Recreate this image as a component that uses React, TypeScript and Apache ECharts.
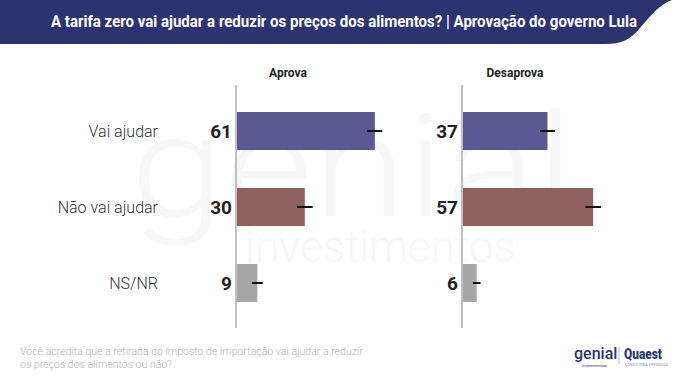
import React, { useEffect, useRef } from "react";
import * as echarts from "echarts";

const categories = ["Vai ajudar", "Não vai ajudar", "NS/NR"];
const panelTitles = ["Aprova", "Desaprova"];
const aprovaValues = [61, 30, 9];
const aprovaErrors = [3.3, 3.5, 2.4];
const desaprovaValues = [37, 57, 6];
const desaprovaErrors = [3.3, 3.4, 1.7];
const barColors = ["#5b5894", "#8f6260", "#a6a6a6"];
const titleText = "A tarifa zero vai ajudar a reduzir os preços dos alimentos? | Aprovação do governo Lula";
const footerLines = [
  "Você acredita que a retirada do imposto de importação vai ajudar a reduzir",
  "os preços dos alimentos ou não?",
];

const FONT = "Roboto, 'Noto Sans', sans-serif";

echarts.graphic.registerShape(
  "headerBand",
  echarts.graphic.extendPath(
    "M0 0 H672 C660 4 650 16 640 28 C630 40 622 44 605 44 H0 Z",
    {}
  )
);

function barSeries(values: number[], idx: number) {
  return {
    type: "bar",
    xAxisIndex: idx,
    yAxisIndex: idx,
    barWidth: 38,
    data: values.map((v, i) => ({ value: v, itemStyle: { color: barColors[i] } })),
    label: {
      show: true,
      position: "left",
      distance: 5,
      fontSize: 19,
      fontWeight: "bold",
      color: "#222",
      fontFamily: FONT,
    },
    z: 2,
  };
}

function errSeries(values: number[], errs: number[], idx: number) {
  return {
    type: "custom",
    xAxisIndex: idx,
    yAxisIndex: idx,
    data: values.map((v, i) => [v, i, errs[i]]),
    encode: { x: 0, y: 1 },
    renderItem: (params: any, api: any) => {
      const v = api.value(0);
      const c = api.value(1);
      const e = api.value(2);
      const p1 = api.coord([v - e, c]);
      const p2 = api.coord([v + e, c]);
      return {
        type: "line",
        shape: { x1: p1[0], y1: p1[1], x2: p2[0], y2: p2[1] },
        style: { stroke: "#111", lineWidth: 2 },
      };
    },
    z: 5,
  };
}

export default function App() {
  const ref = useRef<HTMLDivElement>(null);
  useEffect(() => {
    if (!ref.current) return;
    const chart = echarts.init(ref.current, undefined, { renderer: "svg" });
    const option: any = {
      animation: false,
      backgroundColor: "#ffffff",
      grid: [
        { left: 237, top: 93, width: 226, height: 228 },
        { left: 463, top: 93, width: 217, height: 228 },
      ],
      xAxis: [
        { type: "value", gridIndex: 0, min: 0, max: 100, show: false },
        { type: "value", gridIndex: 1, min: 0, max: 95, show: false },
      ],
      yAxis: [
        {
          type: "category",
          gridIndex: 0,
          data: categories,
          inverse: true,
          axisLine: { show: false },
          axisTick: { show: false },
          axisLabel: { margin: 79, fontSize: 16, color: "#333", fontFamily: FONT, fontWeight: 300 },
        },
        {
          type: "category",
          gridIndex: 1,
          data: categories,
          inverse: true,
          axisLine: { show: false },
          axisTick: { show: false },
          axisLabel: { show: false },
        },
      ],
      series: [
        barSeries(aprovaValues, 0),
        barSeries(desaprovaValues, 1),
        errSeries(aprovaValues, aprovaErrors, 0),
        errSeries(desaprovaValues, desaprovaErrors, 1),
      ],
      graphic: [
        // watermark
        {
          type: "text",
          x: 130,
          y: 167,
          scaleX: 1.2,
          z: -10,
          silent: true,
          style: { text: "genial", fontSize: 142, fontWeight: 300, fill: "#f7f7f7", fontFamily: FONT, verticalAlign: "middle" },
        },
        {
          type: "text",
          x: 245,
          y: 247,
          z: -10,
          silent: true,
          style: { text: "investimentos", fontSize: 44, fontWeight: 300, fill: "#f7f7f7", fontFamily: FONT, verticalAlign: "middle" },
        },
        // header
        { type: "headerBand", x: 0, y: 0, style: { fill: "#2b3470" } },
        {
          type: "text",
          x: 51,
          y: 22,
          scaleX: 0.94,
          style: { text: titleText, fontSize: 16, fontWeight: "bold", fill: "#ffffff", fontFamily: FONT, verticalAlign: "middle", align: "left" },
        },
        // panel headers
        {
          type: "text",
          x: 288,
          y: 73,
          style: { text: panelTitles[0], fontSize: 12, fontWeight: "bold", fill: "#222", fontFamily: FONT, align: "center", verticalAlign: "middle" },
        },
        {
          type: "text",
          x: 515,
          y: 73,
          style: { text: panelTitles[1], fontSize: 12, fontWeight: "bold", fill: "#222", fontFamily: FONT, align: "center", verticalAlign: "middle" },
        },
        // axis lines
        { type: "line", shape: { x1: 236, y1: 85, x2: 236, y2: 328 }, style: { stroke: "#c0c0c0", lineWidth: 2 }, z: 10 },
        { type: "line", shape: { x1: 462, y1: 85, x2: 462, y2: 328 }, style: { stroke: "#c0c0c0", lineWidth: 2 }, z: 10 },
        // footer
        {
          type: "text",
          x: 20,
          y: 351,
          scaleX: 0.96,
          style: { text: footerLines[0], fontSize: 11, fontWeight: 300, fill: "#b3b3b3", fontFamily: FONT, verticalAlign: "middle" },
        },
        {
          type: "text",
          x: 20,
          y: 364,
          scaleX: 0.96,
          style: { text: footerLines[1], fontSize: 11, fontWeight: 300, fill: "#b3b3b3", fontFamily: FONT, verticalAlign: "middle" },
        },
        // logo
        {
          type: "text",
          x: 574,
          y: 353,
          style: { text: "genial", fontSize: 16, fontWeight: 500, fill: "#2b3470", fontFamily: FONT, verticalAlign: "middle" },
        },
        {
          type: "text",
          x: 582,
          y: 365,
          style: { text: "investimentos", fontSize: 4, fill: "#2b3470", fontFamily: FONT, verticalAlign: "middle" },
        },
        { type: "line", shape: { x1: 619, y1: 347, x2: 619, y2: 364 }, style: { stroke: "#aaaaaa", lineWidth: 0.8 } },
        {
          type: "text",
          x: 624,
          y: 354,
          scaleX: 0.85,
          style: { text: "Quaest", fontSize: 14, fontWeight: 900, fill: "#2b3470", fontFamily: FONT, verticalAlign: "middle" },
        },
        {
          type: "text",
          x: 625,
          y: 365,
          style: { text: "CONSULTORIA E PESQUISA", fontSize: 3.5, fill: "#8a8fb0", fontFamily: FONT, verticalAlign: "middle" },
        },
      ],
    };
    chart.setOption(option);
    return () => chart.dispose();
  }, []);
  return (
    <div
      ref={ref}
      style={{ position: "fixed", left: 0, top: 0, width: 680, height: 380, background: "#fff" }}
    />
  );
}
